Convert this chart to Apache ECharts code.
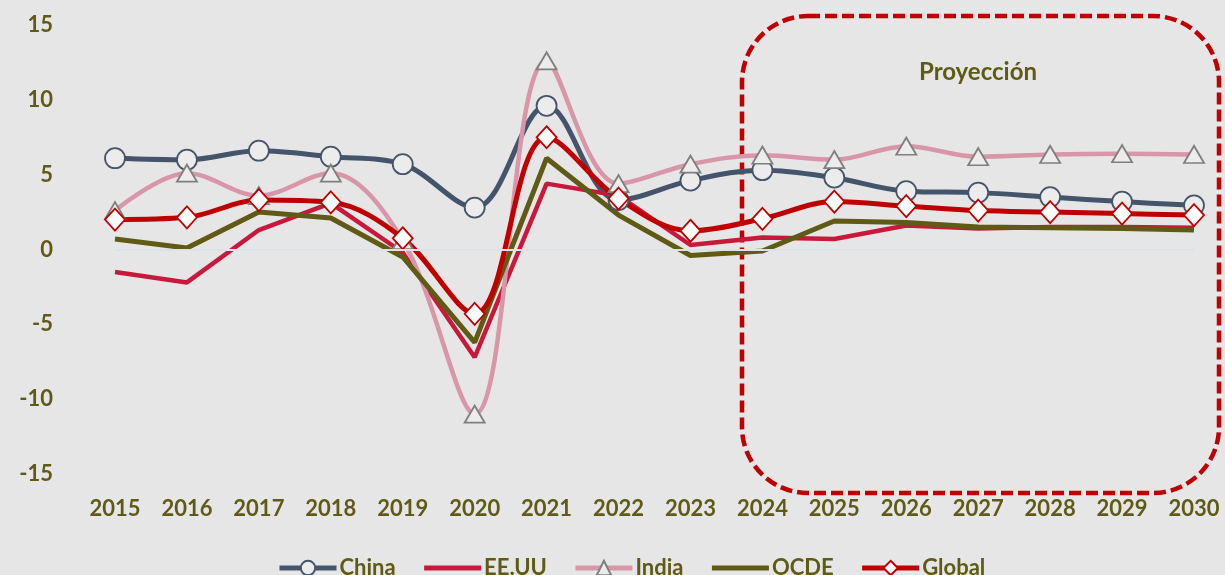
<!DOCTYPE html>
<html>
<head>
<meta charset="utf-8">
<script src="https://cdn.jsdelivr.net/npm/echarts@6/dist/echarts.min.js"></script>
<style>
  html, body { margin: 0; padding: 0; background: #e6e6e6; }
  #chart { width: 1225px; height: 575px; }
</style>
</head>
<body>
<div id="chart"></div>
<script>
// años y series (crecimiento del PIB, %)
var years = ['2015','2016','2017','2018','2019','2020','2021','2022','2023','2024','2025','2026','2027','2028','2029','2030'];
var china  = [6.1, 6.0, 6.6, 6.2, 5.7, 2.8, 9.6, 3.3, 4.6, 5.3, 4.8, 3.9, 3.8, 3.5, 3.2, 2.95];
var eeuu   = [-1.5, -2.2, 1.3, 3.1, -0.2, -7.2, 4.4, 3.6, 0.3, 0.8, 0.7, 1.6, 1.4, 1.5, 1.5, 1.45];
var india  = [2.6, 5.1, 3.6, 5.1, 0.6, -11.0, 12.6, 4.4, 5.7, 6.3, 6.0, 6.9, 6.2, 6.35, 6.4, 6.35];
var ocde   = [0.7, 0.1, 2.5, 2.1, -0.5, -6.2, 6.1, 2.3, -0.4, -0.1, 1.9, 1.8, 1.5, 1.45, 1.4, 1.3];
var global = [2.0, 2.15, 3.3, 3.15, 0.75, -4.3, 7.5, 3.4, 1.25, 2.05, 3.2, 2.9, 2.6, 2.5, 2.4, 2.3];
var yTicks = [-15, 15, 5];

var olive = '#5f5a16';
var font = 'Lato';

var myChart = echarts.init(document.getElementById('chart'));

var option = {
    backgroundColor: '#e6e6e6',
    animation: false,
    textStyle: { fontFamily: font },
    grid: { left: 115, right: 31, top: 25, bottom: 101 },
    legend: {
        left: 272,
        top: 552,
        itemWidth: 57,
        itemHeight: 18,
        itemGap: 26,
        lineStyle: { width: 5 },
        textStyle: { color: olive, fontWeight: 'bold', fontSize: 22, fontFamily: font, padding: [0, 0, 0, -2] },
        data: [
            { name: 'China' },
            { name: 'EE.UU', itemStyle: { opacity: 0 } },
            { name: 'India' },
            { name: 'OCDE', itemStyle: { opacity: 0 } },
            { name: 'Global' }
        ]
    },
    xAxis: {
        type: 'category',
        data: years,
        boundaryGap: false,
        axisLine: { show: false },
        axisTick: { show: false },
        axisLabel: { color: olive, fontWeight: 'bold', fontSize: 22, margin: 24 }
    },
    yAxis: {
        type: 'value',
        min: yTicks[0],
        max: yTicks[1],
        interval: yTicks[2],
        splitLine: { show: false },
        axisLine: { show: false },
        axisTick: { show: false },
        axisLabel: { color: olive, fontWeight: 'bold', fontSize: 22, margin: 62 }
    },
    graphic: [
        {
            type: 'rect',
            shape: { x: 742, y: 16, width: 477, height: 477, r: 66 },
            style: { fill: 'none', stroke: '#c00000', lineWidth: 4.5, lineDash: [12, 5] },
            z: 1
        },
        {
            type: 'text',
            x: 978, y: 72,
            style: {
                text: 'Proyección', fill: olive, font: 'bold 24px Lato',
                align: 'center', verticalAlign: 'middle'
            }
        }
    ],
    series: [
        {
            name: 'China', type: 'line', data: china, smooth: 0.35,
            symbol: 'circle', symbolSize: 20,
            lineStyle: { color: '#44546a', width: 5 },
            itemStyle: { color: '#ececec', borderColor: '#44546a', borderWidth: 1.8 },
            markLine: {
                silent: true, symbol: 'none', label: { show: false },
                lineStyle: { color: '#dde2e8', width: 2, type: 'solid' },
                data: [{ yAxis: 0 }]
            },
            z: 3
        },
        {
            name: 'EE.UU', type: 'line', data: eeuu, showSymbol: false, symbol: 'none',
            lineStyle: { color: '#c8193c', width: 4.5 },
            itemStyle: { color: '#c8193c' },
            z: 3
        },
        {
            name: 'India', type: 'line', data: india, smooth: 0.35,
            symbol: 'triangle', symbolSize: [20, 17],
            lineStyle: { color: '#d896a8', width: 4.5 },
            itemStyle: { color: '#ececec', borderColor: '#7f7f7f', borderWidth: 1.8 },
            z: 3
        },
        {
            name: 'OCDE', type: 'line', data: ocde, showSymbol: false, symbol: 'none',
            lineStyle: { color: '#5f5a14', width: 5 },
            itemStyle: { color: '#5f5a14' },
            z: 3
        },
        {
            name: 'Global', type: 'line', data: global, smooth: 0.35,
            symbol: 'diamond', symbolSize: [20, 22],
            lineStyle: { color: '#c00000', width: 5 },
            itemStyle: { color: '#ffffff', borderColor: '#c00000', borderWidth: 1.8 },
            z: 3
        }
    ]
};

myChart.setOption(option);
</script>
</body>
</html>
